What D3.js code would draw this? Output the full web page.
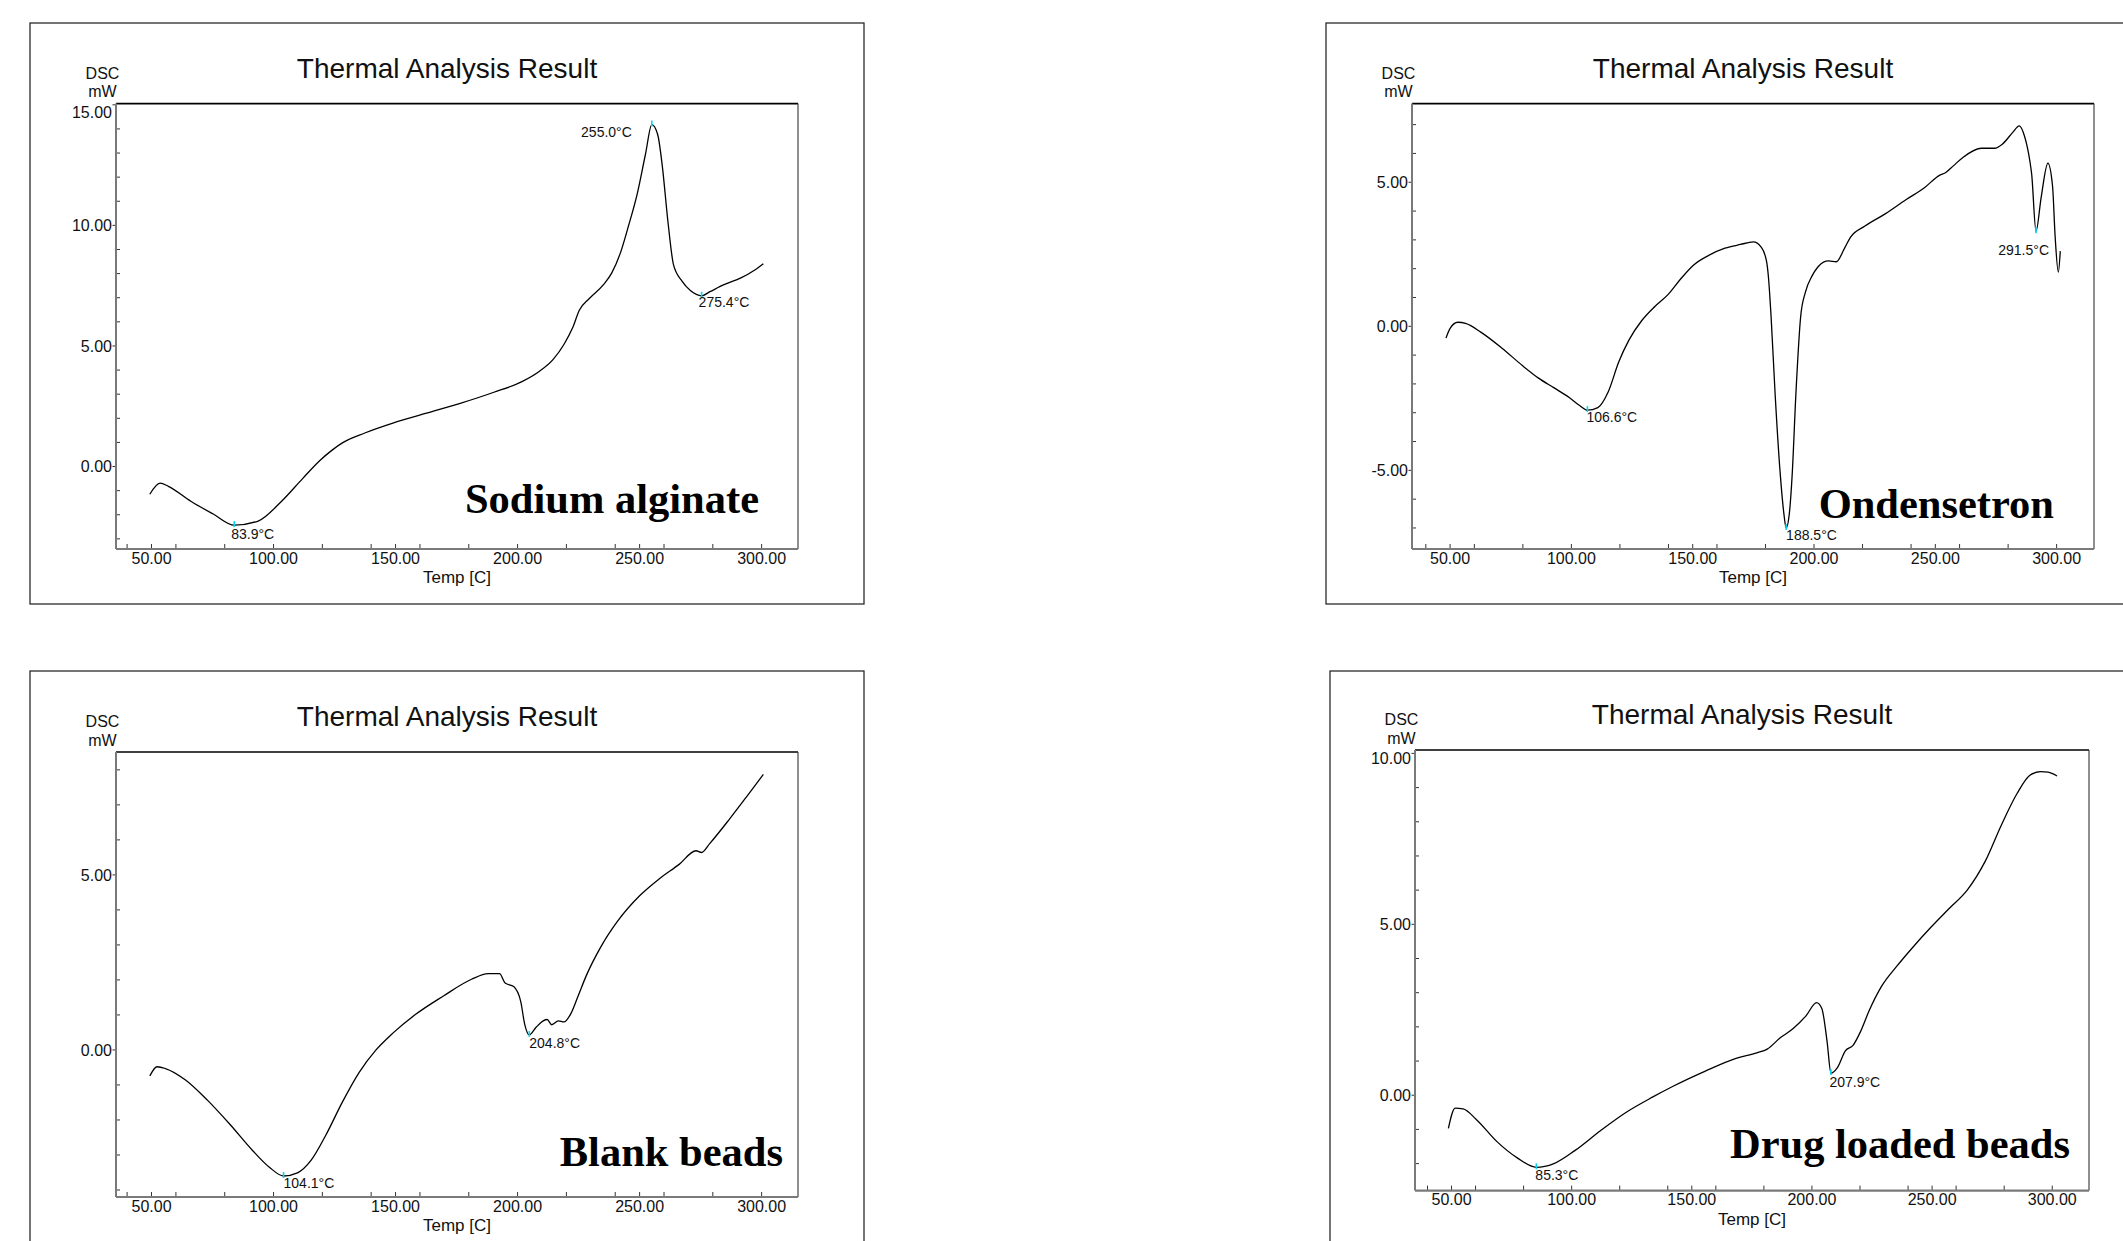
<!DOCTYPE html>
<html><head><meta charset="utf-8">
<script src="https://cdn.jsdelivr.net/npm/d3@7"></script>
<style>body{margin:0;background:#fff} svg{display:block}</style>
</head><body>
<svg id="c" width="2123" height="1241"></svg>
<script>
// ---------------- DATA ----------------
const chartTitle = "Thermal Analysis Result";
const yUnitTop = "DSC";
const yUnitBottom = "mW";
const xAxisLabel = "Temp [C]";
const sampleNames = ["Sodium alginate", "Ondensetron", "Blank beads", "Drug loaded beads"];

const xTicks = [50, 100, 150, 200, 250, 300];
const xTickLabels = ["50.00", "100.00", "150.00", "200.00", "250.00", "300.00"];
const xMinorTicks = [40, 60, 80, 120, 140, 160, 180, 220, 240, 260, 280];

// Sodium alginate
const sodiumTemp = [49.3,53.5,56.9,66.1,75.3,83.9,93.7,102.9,112,119,124,128.2,137.4,148.9,162.7,176.5,190.3,201.8,208.7,214.5,219.1,222.5,225.3,229.4,235.2,238.6,242.1,245.5,249,252.4,255.0,257.4,259.3,261.6,263.9,267.3,270.8,275.4,278.8,284.6,291.5,297.2,300.7];
const sodiumDSC  = [-1.15,-0.69,-0.82,-1.44,-1.97,-2.43,-2.26,-1.48,-0.49,0.25,0.68,0.98,1.39,1.80,2.21,2.62,3.08,3.52,3.93,4.43,5.08,5.74,6.48,6.97,7.54,8.03,8.85,10.0,11.3,12.95,14.18,13.77,12.46,10.16,8.36,7.70,7.30,7.08,7.25,7.54,7.82,8.15,8.41];
const sodiumYTicks = [0, 5, 10, 15];
const sodiumYTickLabels = ["0.00", "5.00", "10.00", "15.00"];
const sodiumPeakTemp = [83.9, 255.0, 275.4];
const sodiumPeakDSC = [-2.43, 14.18, 7.08];
const sodiumPeakLabels = ["83.9°C", "255.0°C", "275.4°C"];

// Ondensetron
const ondTemp = [48.3,50,53.2,56.4,62.8,71.4,79.9,86.3,92.7,99.1,103.4,106.6,110.9,115.2,119.5,123.7,129.1,134.4,139.8,145.1,150.4,156.8,163.3,169.7,175,178.2,180.4,181.2,182.3,184,186.1,187.6,188.5,189.8,191,192.5,194.5,196.4,199.2,201.5,203.9,206,209.2,212.4,215,221,229.5,238,245.5,251.9,254,257.3,261.5,269,274.4,277.6,281.9,284.6,286.8,288.9,289.7,291.5,293.6,296.4,298.3,299.4,300.7,301.5];
const ondDSC  = [-0.41,-0.07,0.14,0.10,-0.21,-0.76,-1.37,-1.79,-2.13,-2.47,-2.75,-2.91,-2.82,-2.27,-1.24,-0.48,0.21,0.69,1.10,1.65,2.13,2.47,2.71,2.84,2.93,2.75,2.27,1.72,0.34,-2.40,-5.15,-6.52,-7.0,-6.52,-5.15,-2.40,0.34,1.17,1.75,2.05,2.23,2.27,2.24,2.68,3.09,3.48,3.91,4.40,4.81,5.25,5.32,5.56,5.87,6.18,6.18,6.32,6.73,6.96,6.59,5.77,5.29,3.30,4.46,5.66,4.88,3.09,1.88,2.61];
const ondYTicks = [-5, 0, 5];
const ondYTickLabels = ["-5.00", "0.00", "5.00"];
const ondPeakTemp = [106.6, 188.5, 291.5];
const ondPeakDSC = [-2.91, -7.0, 3.30];
const ondPeakLabels = ["106.6°C", "188.5°C", "291.5°C"];

// Blank beads
const blankTemp = [49.3,52.3,55.7,63.8,73,82.2,91.4,98.3,104.1,109.8,115.5,121.3,128.2,135.1,142,148.9,158.1,169.6,181.1,188,192.6,194.9,198.4,201.3,202.9,204.8,207.5,210.5,212.1,214,216.7,219,222,224.8,228.2,234,240.9,250.1,258.1,266.2,273.1,275.4,278.8,286.9,293.8,300.7];
const blankDSC  = [-0.74,-0.48,-0.53,-0.85,-1.44,-2.13,-2.87,-3.35,-3.60,-3.51,-3.14,-2.45,-1.49,-0.64,0.0,0.48,1.01,1.54,2.02,2.18,2.18,1.91,1.81,1.38,0.74,0.43,0.64,0.83,0.87,0.72,0.83,0.80,1.06,1.54,2.13,2.93,3.67,4.41,4.89,5.30,5.69,5.64,5.90,6.60,7.23,7.87];
const blankYTicks = [0, 5];
const blankYTickLabels = ["0.00", "5.00"];
const blankPeakTemp = [104.1, 204.8];
const blankPeakDSC = [-3.60, 0.43];
const blankPeakLabels = ["104.1°C", "204.8°C"];

// Drug loaded beads
const drugTemp = [48.7,51.5,54.8,60.2,68.8,77.5,85.3,92.6,101.3,112.1,122.9,133.8,142.4,155.4,168.4,177.1,181.4,186.8,192.2,197.6,201.9,204.1,206.3,207.9,210.6,213.9,217.1,220.4,223.6,229,235.5,242,249.6,257.2,264.7,272.3,278.8,285.3,290.7,295.1,298.3,302];
const drugDSC  = [-0.97,-0.38,-0.40,-0.70,-1.35,-1.84,-2.11,-2.00,-1.62,-1.03,-0.49,-0.05,0.27,0.70,1.08,1.24,1.35,1.68,1.95,2.33,2.71,2.54,1.57,0.65,0.81,1.30,1.46,1.89,2.44,3.19,3.79,4.33,4.92,5.47,6.01,6.87,7.90,8.82,9.36,9.47,9.45,9.34];
const drugYTicks = [0, 5, 10];
const drugYTickLabels = ["0.00", "5.00", "10.00"];
const drugPeakTemp = [85.3, 207.9];
const drugPeakDSC = [-2.11, 0.65];
const drugPeakLabels = ["85.3°C", "207.9°C"];

// ---------------- LAYOUT ----------------
const layouts = [
  {frame:[30,23,834,581], plot:{l:116,t:103.6,r:798,b:549}, xDom:[35.45,314.9], yDom:[-3.42,15.05], titleDx:417,
   name:{dx:-39,dy:-36},
   ann:[{dx:-3,dy:13.5,anchor:"start"},{dx:-20,dy:12,anchor:"end"},{dx:-3,dy:11,anchor:"start"}]},
  {frame:[1326,23,834,581], plot:{l:1412,t:103.6,r:2094,b:549}, xDom:[34.3,315.4], yDom:[-7.73,7.73], titleDx:417,
   name:{dx:-40,dy:-31},
   ann:[{dx:-1,dy:12,anchor:"start"},{dx:0,dy:12.5,anchor:"start"},{dx:13,dy:24,anchor:"end"}]},
  {frame:[30,671,834,581], plot:{l:116,t:752,r:798,b:1197}, xDom:[35.45,314.9], yDom:[-4.2,8.51], titleDx:417,
   name:{dx:-15,dy:-31},
   ann:[{dx:0,dy:12,anchor:"start"},{dx:0,dy:13,anchor:"start"}]},
  {frame:[1330,671,834,581], plot:{l:1415,t:750,r:2089,b:1190.6}, xDom:[34.8,315.3], yDom:[-2.79,10.1], titleDx:412,
   name:{dx:-19,dy:-32.6},
   ann:[{dx:-1,dy:13,anchor:"start"},{dx:-1.5,dy:14,anchor:"start"}]}
];

const series = [
  {t:sodiumTemp, v:sodiumDSC, yt:sodiumYTicks, ytl:sodiumYTickLabels, pt:sodiumPeakTemp, pv:sodiumPeakDSC, pl:sodiumPeakLabels},
  {t:ondTemp, v:ondDSC, yt:ondYTicks, ytl:ondYTickLabels, pt:ondPeakTemp, pv:ondPeakDSC, pl:ondPeakLabels},
  {t:blankTemp, v:blankDSC, yt:blankYTicks, ytl:blankYTickLabels, pt:blankPeakTemp, pv:blankPeakDSC, pl:blankPeakLabels},
  {t:drugTemp, v:drugDSC, yt:drugYTicks, ytl:drugYTickLabels, pt:drugPeakTemp, pv:drugPeakDSC, pl:drugPeakLabels}
];

const SANS = "'Liberation Sans', Arial, sans-serif";
const SERIF = "'Liberation Serif', 'Times New Roman', serif";
const svg = d3.select("#c");

series.forEach((s, i) => {
  const L = layouts[i], p = L.plot;
  const g = svg.append("g");
  // outer frame
  g.append("rect").attr("x", L.frame[0]).attr("y", L.frame[1]).attr("width", L.frame[2]).attr("height", L.frame[3])
    .attr("fill", "none").attr("stroke", "#1a1a1a").attr("stroke-width", 1.2);

  const x = d3.scaleLinear().domain(L.xDom).range([p.l, p.r]);
  const y = d3.scaleLinear().domain(L.yDom).range([p.b, p.t]);

  // top & right border
  g.append("line").attr("x1", p.l).attr("x2", p.r).attr("y1", p.t).attr("y2", p.t).attr("stroke", "#000").attr("stroke-width", 1.6);
  g.append("line").attr("x1", p.r).attr("x2", p.r).attr("y1", p.t).attr("y2", p.b).attr("stroke", "#333").attr("stroke-width", 1.1);

  // y ticks: minor inward, major outward
  const minorY = d3.range(Math.ceil(L.yDom[0]), Math.floor(L.yDom[1]) + 1).filter(v => !s.yt.includes(v));
  g.selectAll(null).data(minorY).join("line")
    .attr("x1", p.l).attr("x2", p.l + 4).attr("y1", d => y(d)).attr("y2", d => y(d))
    .attr("stroke", "#333").attr("stroke-width", 1);
  g.selectAll(null).data(s.yt).join("line")
    .attr("x1", p.l - 3.5).attr("x2", p.l).attr("y1", d => y(d)).attr("y2", d => y(d))
    .attr("stroke", "#333").attr("stroke-width", 1);
  g.selectAll(null).data(s.yt).join("text")
    .attr("x", p.l - 4).attr("y", d => Math.max(y(d), p.t + 8.5)).attr("dy", "0.36em")
    .attr("text-anchor", "end").attr("font-family", SANS).attr("font-size", 16).attr("fill", "#111")
    .text((d, k) => s.ytl[k]);

  // x ticks (inward)
  g.selectAll(null).data(xTicks.concat(xMinorTicks)).join("line")
    .attr("x1", d => x(d)).attr("x2", d => x(d)).attr("y1", p.b).attr("y2", p.b - 5)
    .attr("stroke", "#333").attr("stroke-width", 1);
  g.selectAll(null).data(xTicks).join("text")
    .attr("x", d => x(d)).attr("y", p.b + 14.5)
    .attr("text-anchor", "middle").attr("font-family", SANS).attr("font-size", 16).attr("fill", "#111")
    .text((d, k) => xTickLabels[k]);

  // left & bottom axis lines (gray)
  g.append("line").attr("x1", p.l).attr("x2", p.l).attr("y1", p.t).attr("y2", p.b).attr("stroke", "#7a7a7a").attr("stroke-width", 2);
  g.append("line").attr("x1", p.l).attr("x2", p.r).attr("y1", p.b).attr("y2", p.b).attr("stroke", "#7a7a7a").attr("stroke-width", 2.2);

  // titles
  g.append("text").attr("x", L.frame[0] + L.titleDx).attr("y", p.t - 26)
    .attr("text-anchor", "middle").attr("font-family", SANS).attr("font-size", 28).attr("fill", "#111").text(chartTitle);
  g.append("text").attr("x", p.l - 13.5).attr("y", p.t - 25)
    .attr("text-anchor", "middle").attr("font-family", SANS).attr("font-size", 16).attr("fill", "#111").text(yUnitTop);
  g.append("text").attr("x", p.l - 13.5).attr("y", p.t - 6.5)
    .attr("text-anchor", "middle").attr("font-family", SANS).attr("font-size", 16).attr("fill", "#111").text(yUnitBottom);
  g.append("text").attr("x", (p.l + p.r) / 2).attr("y", p.b + 34)
    .attr("text-anchor", "middle").attr("font-family", SANS).attr("font-size", 17).attr("fill", "#111").text(xAxisLabel);

  // curve
  const pts = s.t.map((t, k) => [t, s.v[k]]);
  const line = d3.line().x(d => x(d[0])).y(d => y(d[1])).curve(d3.curveMonotoneX);
  g.append("path").attr("d", line(pts)).attr("fill", "none").attr("stroke", "#000").attr("stroke-width", 1.3);

  // peak markers & labels
  s.pt.forEach((t, k) => {
    const px = x(t), py = y(s.pv[k]), a = L.ann[k];
    g.append("line").attr("x1", px).attr("x2", px).attr("y1", py - 4).attr("y2", py + 2)
      .attr("stroke", "#00d8ee").attr("stroke-width", 1.6);
    g.append("text").attr("x", px + a.dx).attr("y", py + a.dy).attr("text-anchor", a.anchor)
      .attr("font-family", SANS).attr("font-size", 14).attr("fill", "#111").text(s.pl[k]);
  });

  // sample name
  g.append("text").attr("x", p.r + L.name.dx).attr("y", p.b + L.name.dy).attr("text-anchor", "end")
    .attr("font-family", SERIF).attr("font-weight", "bold").attr("font-size", 42.5).attr("fill", "#000")
    .text(sampleNames[i]);
});
</script>
</body></html>
